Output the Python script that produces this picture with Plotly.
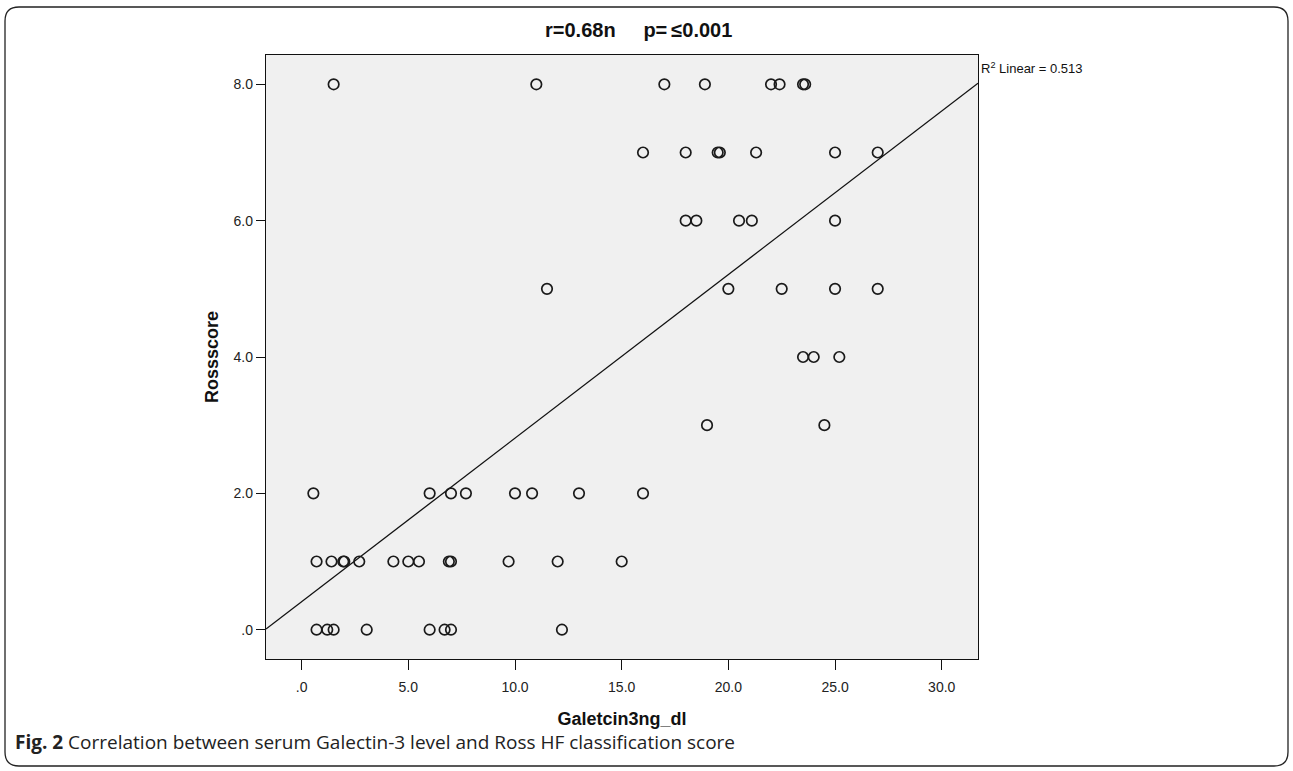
import numpy as np
import plotly.graph_objects as go

# Data
galectin = [1.5, 11.0, 17.0, 18.9, 22.0, 22.4, 23.5, 23.6,
            16.0, 18.0, 19.5, 19.6, 21.3, 25.0, 27.0,
            18.0, 18.5, 20.5, 21.1, 25.0,
            11.5, 20.0, 22.5, 25.0, 27.0,
            23.5, 24.0, 25.2,
            19.0, 24.5,
            0.55, 6.0, 7.0, 7.7, 10.0, 10.8, 13.0, 16.0,
            0.7, 1.4, 1.95, 2.0, 2.7, 4.3, 5.0, 5.5, 6.9, 7.0, 9.7, 12.0, 15.0,
            0.7, 1.2, 1.5, 3.05, 6.0, 6.7, 7.0, 12.2]
ross = [8, 8, 8, 8, 8, 8, 8, 8,
        7, 7, 7, 7, 7, 7, 7,
        6, 6, 6, 6, 6,
        5, 5, 5, 5, 5,
        4, 4, 4,
        3, 3,
        2, 2, 2, 2, 2, 2, 2, 2,
        1, 1, 1, 1, 1, 1, 1, 1, 1, 1, 1, 1, 1,
        0, 0, 0, 0, 0, 0, 0, 0]

x_tickvals = [0, 5, 10, 15, 20, 25, 30]
x_ticktext = [".0", "5.0", "10.0", "15.0", "20.0", "25.0", "30.0"]
y_tickvals = [0, 2, 4, 6, 8]
y_ticktext = [".0", "2.0", "4.0", "6.0", "8.0"]

title_text = "r=0.68n\u00a0\u00a0\u00a0\u00a0\u00a0p=\u2009\u22640.001"
r2_text = "R<sup>2</sup> Linear = 0.513"
caption_bold = "Fig. 2"
caption_text = "Correlation between serum Galectin-3 level and Ross HF classification score"

x_range = [-1.67, 31.7]
y_range = [-0.43, 8.43]

# Linear fit line (least squares)
slope, intercept = np.polyfit(galectin, ross, 1)
fit_x = np.array(x_range)
fit_y = intercept + slope * fit_x

FONT = "Arial, Liberation Sans, sans-serif"

fig = go.Figure()
fig.add_trace(go.Scatter(
    x=fit_x, y=fit_y, mode="lines",
    line=dict(color="#111111", width=1.3),
    hoverinfo="skip", showlegend=False, cliponaxis=True))
fig.add_trace(go.Scatter(
    x=galectin, y=ross, mode="markers",
    marker=dict(symbol="circle-open", size=10.5, color="#1a1a1a",
                line=dict(width=1.7, color="#1a1a1a")),
    showlegend=False))

W, H = 1293, 771
L, R, T, B = 266, 978, 55, 659
ml, mr, mt, mb = L, W - R, T, H - B


def px2paper(px, py):
    return (px - L) / (R - L), (B - py) / (B - T)


def P(px, py):
    a, b = px2paper(px, py)
    return f"{a:.5f},{b:.5f}"


# rounded outer border
x0, y0, x1, y1, rad = 5, 7, 1288, 766, 14
path = (f"M {P(x0 + rad, y0)} L {P(x1 - rad, y0)} Q {P(x1, y0)} {P(x1, y0 + rad)} "
        f"L {P(x1, y1 - rad)} Q {P(x1, y1)} {P(x1 - rad, y1)} "
        f"L {P(x0 + rad, y1)} Q {P(x0, y1)} {P(x0, y1 - rad)} "
        f"L {P(x0, y0 + rad)} Q {P(x0, y0)} {P(x0 + rad, y0)} Z")
fig.add_shape(type="path", path=path, xref="paper", yref="paper",
              line=dict(color="#222222", width=1.3), layer="above")

annotations = []
tx, ty = px2paper(638, 30)
annotations.append(dict(text=f"<b>{title_text}</b>", x=tx, y=ty, xref="paper", yref="paper",
                        showarrow=False, xanchor="center", yanchor="middle",
                        font=dict(family=FONT, size=20, color="#111111")))
rx, ry = px2paper(979, 68)
annotations.append(dict(text=r2_text, x=rx, y=ry, xref="paper", yref="paper",
                        showarrow=False, xanchor="left", yanchor="middle",
                        font=dict(family=FONT, size=13, color="#111111")))
cx, cy = px2paper(13, 742)
annotations.append(dict(text=f"<b>{caption_bold}</b> {caption_text}", x=cx, y=cy,
                        xref="paper", yref="paper", showarrow=False,
                        xanchor="left", yanchor="middle",
                        font=dict(family="Open Sans, sans-serif", size=19, color="#222222")))

fig.update_layout(
    width=W, height=H,
    margin=dict(l=ml, r=mr, t=mt, b=mb, pad=0),
    paper_bgcolor="white", plot_bgcolor="#f0f0f0",
    annotations=annotations,
    xaxis=dict(range=x_range, tickvals=x_tickvals, ticktext=x_ticktext,
               showgrid=False, zeroline=False, showline=True, linecolor="#111111",
               linewidth=1.3, mirror=True, ticks="outside", ticklen=10,
               tickcolor="#111111", tickwidth=1.3, ticklabelstandoff=5,
               tickfont=dict(family=FONT, size=14, color="#222222"),
               title=dict(text="<b>Galetcin3ng_dl</b>", standoff=18,
                          font=dict(family=FONT, size=18, color="#111111"))),
    yaxis=dict(range=y_range, tickvals=y_tickvals, ticktext=y_ticktext,
               showgrid=False, zeroline=False, showline=True, linecolor="#111111",
               linewidth=1.3, mirror=True, ticks="outside", ticklen=9,
               tickcolor="#111111", tickwidth=1.3,
               tickfont=dict(family=FONT, size=14, color="#222222"),
               title=dict(text="<b>Rossscore</b>", standoff=10,
                          font=dict(family=FONT, size=18, color="#111111"))),
)

fig.write_html("out.html", config={"displayModeBar": False},
               post_script="document.body.style.margin='0';document.body.style.overflow='hidden';")
